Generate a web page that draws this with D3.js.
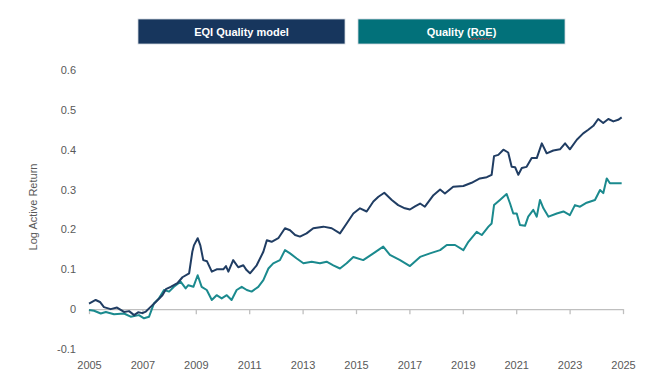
<!DOCTYPE html>
<html>
<head>
<meta charset="utf-8">
<script src="https://cdn.jsdelivr.net/npm/d3@7"></script>
<style>
  body { margin: 0; background: #fff; }
  svg { display: block; }
</style>
</head>
<body>
<div id="chart"></div>
<script>
// EQI Quality model (decimal year, log active return)
const eqiDates = [2005.0, 2005.25, 2005.41, 2005.56, 2005.81, 2006.05, 2006.31, 2006.5, 2006.69, 2006.84,
  2007.0, 2007.13, 2007.25, 2007.5, 2007.75, 2007.88, 2008.06, 2008.31, 2008.5, 2008.75,
  2008.87, 2008.93, 2009.07, 2009.17, 2009.28, 2009.42, 2009.6, 2009.78, 2010.03, 2010.13,
  2010.22, 2010.4, 2010.59, 2010.78, 2010.9, 2011.03, 2011.28, 2011.53, 2011.66, 2011.84,
  2012.09, 2012.34, 2012.53, 2012.72, 2012.9, 2013.15, 2013.4, 2013.78, 2014.09, 2014.4,
  2014.65, 2014.9, 2015.15, 2015.4, 2015.65, 2015.84, 2016.06, 2016.34, 2016.58, 2016.83,
  2017.02, 2017.21, 2017.4, 2017.58, 2017.9, 2018.15, 2018.33, 2018.64, 2019.02, 2019.33,
  2019.64, 2019.9, 2020.08, 2020.17, 2020.33, 2020.52, 2020.7, 2020.83, 2020.96, 2021.08,
  2021.21, 2021.39, 2021.58, 2021.77, 2021.96, 2022.14, 2022.39, 2022.64, 2022.83, 2023.01,
  2023.27, 2023.51, 2023.7, 2023.89, 2024.07, 2024.26, 2024.45, 2024.64, 2024.82, 2024.95];
const eqiValues = [0.014, 0.023, 0.018, 0.005, 0.0, 0.004, -0.007, -0.005, -0.015, -0.008,
  -0.01, -0.006, 0.002, 0.018, 0.035, 0.05, 0.056, 0.065, 0.08, 0.09,
  0.144, 0.16, 0.178, 0.16, 0.123, 0.12, 0.094, 0.10, 0.10, 0.108,
  0.094, 0.123, 0.105, 0.11, 0.098, 0.09, 0.11, 0.144, 0.173, 0.169,
  0.178, 0.203, 0.198, 0.186, 0.182, 0.19, 0.203, 0.207, 0.203, 0.19,
  0.215, 0.24, 0.253, 0.245, 0.27, 0.282, 0.292, 0.274, 0.261, 0.253,
  0.25, 0.258, 0.265, 0.257, 0.286, 0.30, 0.29, 0.307, 0.309, 0.317,
  0.328, 0.331, 0.337, 0.384, 0.387, 0.40, 0.393, 0.357, 0.356, 0.337,
  0.354, 0.357, 0.379, 0.379, 0.416, 0.391, 0.398, 0.401, 0.416, 0.401,
  0.425, 0.441, 0.45, 0.46, 0.477, 0.467, 0.477, 0.471, 0.475, 0.481];

// Quality (RoE)
const roeDates = [2005.0, 2005.19, 2005.44, 2005.63, 2005.94, 2006.31, 2006.56, 2006.87, 2007.06, 2007.25,
  2007.43, 2007.62, 2007.81, 2008.0, 2008.18, 2008.43, 2008.62, 2008.72, 2008.91, 2009.07,
  2009.22, 2009.41, 2009.6, 2009.78, 2009.97, 2010.16, 2010.34, 2010.53, 2010.72, 2010.91,
  2011.09, 2011.34, 2011.53, 2011.72, 2011.9, 2012.15, 2012.34, 2012.53, 2012.78, 2013.03,
  2013.34, 2013.65, 2013.9, 2014.15, 2014.4, 2014.65, 2014.9, 2015.27, 2015.65, 2016.02,
  2016.27, 2016.65, 2017.02, 2017.4, 2017.77, 2018.15, 2018.4, 2018.71, 2019.02, 2019.21,
  2019.52, 2019.71, 2019.96, 2020.08, 2020.17, 2020.39, 2020.64, 2020.77, 2020.89, 2021.02,
  2021.14, 2021.33, 2021.45, 2021.64, 2021.77, 2021.89, 2022.02, 2022.21, 2022.52, 2022.77,
  2023.01, 2023.2, 2023.39, 2023.64, 2023.95, 2024.14, 2024.26, 2024.39, 2024.51, 2024.95];
const roeValues = [-0.002, -0.004, -0.011, -0.007, -0.013, -0.011, -0.019, -0.015, -0.023, -0.019,
  0.014, 0.027, 0.048, 0.044, 0.056, 0.069, 0.052, 0.06, 0.056, 0.085,
  0.056, 0.048, 0.023, 0.035, 0.027, 0.035, 0.023, 0.048, 0.056, 0.048,
  0.044, 0.056, 0.073, 0.102, 0.115, 0.123, 0.148, 0.14, 0.127, 0.115,
  0.119, 0.115, 0.119, 0.11, 0.102, 0.115, 0.131, 0.123, 0.14, 0.157,
  0.136, 0.123, 0.108, 0.131, 0.14, 0.148, 0.161, 0.161, 0.148, 0.169,
  0.194, 0.186, 0.207, 0.215, 0.261, 0.274, 0.289, 0.265, 0.24, 0.24,
  0.211, 0.209, 0.232, 0.249, 0.232, 0.274, 0.253, 0.232, 0.24, 0.245,
  0.236, 0.261, 0.257, 0.267, 0.274, 0.299, 0.291, 0.328, 0.316, 0.316];

const xTicks = [2005, 2007, 2009, 2011, 2013, 2015, 2017, 2019, 2021, 2023, 2025];
const yTicks = [-0.1, 0, 0.1, 0.2, 0.3, 0.4, 0.5, 0.6];
const seriesNames = ['EQI Quality model', 'Quality (RoE)'];
const boxColors = ['#17365d', '#02717a'];
const lineColors = ['#203d63', '#1b8a8e'];

const width = 655, height = 388;
const font = '"Liberation Sans", Arial, sans-serif';

const svg = d3.select('#chart').append('svg')
  .attr('width', width)
  .attr('height', height);

const x = d3.scaleLinear().domain([2005, 2025]).range([89, 623]);
const y = d3.scaleLinear().domain([-0.1, 0.6]).range([349, 70]);

// zero line with ticks
const xAxis = svg.append('g')
  .attr('transform', 'translate(0,' + y(0) + ')')
  .call(d3.axisBottom(x).tickValues(xTicks).tickSize(5).tickSizeOuter(0).tickFormat(''));
xAxis.select('.domain').attr('stroke', '#bfbfbf').attr('stroke-width', 1.3);
xAxis.selectAll('.tick line').attr('stroke', '#bfbfbf').attr('stroke-width', 1.3);

// year labels at the bottom of the plot
const xLabels = svg.append('g')
  .attr('transform', 'translate(0,' + y(-0.1) + ')')
  .call(d3.axisBottom(x).tickValues(xTicks).tickSize(0).tickPadding(12).tickFormat(d3.format('d')));
xLabels.select('.domain').remove();
xLabels.selectAll('text')
  .attr('fill', '#595959')
  .style('font-family', font)
  .style('font-size', '11px');

// y labels
const yAxis = svg.append('g')
  .attr('transform', 'translate(76,0)')
  .call(d3.axisLeft(y).tickValues(yTicks).tickSize(0).tickPadding(0)
    .tickFormat(d => d === 0 ? '0' : d.toFixed(1)));
yAxis.select('.domain').remove();
yAxis.selectAll('text')
  .attr('fill', '#595959')
  .style('font-family', font)
  .style('font-size', '11px');

svg.append('text')
  .attr('transform', 'translate(37,207) rotate(-90)')
  .attr('text-anchor', 'middle')
  .attr('fill', '#595959')
  .style('font-family', font)
  .style('font-size', '11px')
  .text('Log Active Return');

// lines
const series = [
  eqiDates.map((d, i) => ({ t: d, v: eqiValues[i] })),
  roeDates.map((d, i) => ({ t: d, v: roeValues[i] }))
];
const line = d3.line().x(d => x(d.t)).y(d => y(d.v));

// RoE drawn first so the EQI line sits on top where they overlap
[1, 0].forEach(i => {
  svg.append('path')
    .datum(series[i])
    .attr('fill', 'none')
    .attr('stroke', lineColors[i])
    .attr('stroke-width', 2)
    .attr('stroke-linejoin', 'round')
    .attr('d', line);
});

// legend boxes
const legendX = [138, 358];
const legend = svg.append('g');
seriesNames.forEach((name, i) => {
  legend.append('rect')
    .attr('x', legendX[i])
    .attr('y', 19)
    .attr('width', 207)
    .attr('height', 25)
    .attr('fill', boxColors[i])
    .attr('stroke', '#d0d6de')
    .attr('stroke-width', 0.8);
  const t = legend.append('text')
    .attr('x', legendX[i] + 103.5)
    .attr('y', 35.5)
    .attr('text-anchor', 'middle')
    .attr('fill', '#fff')
    .style('font-family', font)
    .style('font-size', '11px')
    .style('font-weight', 'bold')
    .text(name);

  // spell-check squiggle under "RoE"
  const idx = name.indexOf('RoE');
  if (idx >= 0) {
    const node = t.node();
    const start = node.getStartPositionOfChar(idx).x;
    const len = node.getSubStringLength(idx, 3);
    const pts = [];
    for (let k = 0; k <= Math.round(len / 2); k++) {
      pts.push([start + k * 2, 38.5 + (k % 2 ? 1 : -0.5)]);
    }
    legend.append('path')
      .attr('d', d3.line()(pts))
      .attr('fill', 'none')
      .attr('stroke', '#e03030')
      .attr('stroke-width', 0.8);
  }
});
</script>
</body>
</html>
